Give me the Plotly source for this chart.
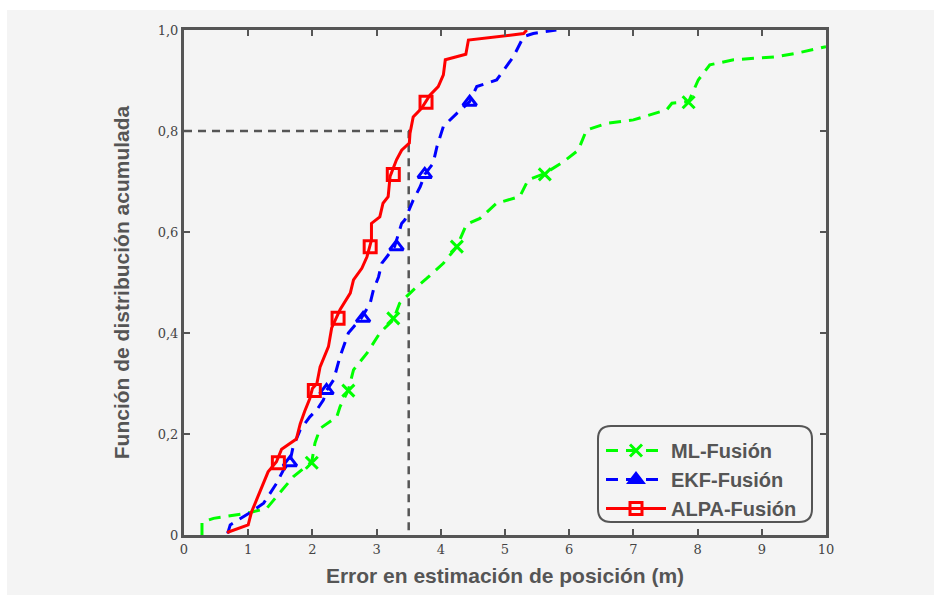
import plotly.graph_objects as go

# Empirical CDFs of the position error for each fusion method
ml_x = [0.28, 0.28, 0.46, 0.98, 1.29, 1.44, 1.70, 1.99, 2.04, 2.12, 2.38, 2.43, 2.56, 2.64, 2.85,
        3.05, 3.26, 3.36, 3.57, 3.78, 4.04, 4.25, 4.40, 4.61, 4.87, 5.23, 5.36, 5.62, 5.91, 6.14,
        6.27, 6.58, 7.00, 7.52, 7.60, 7.86, 8.01, 8.19, 8.56, 9.23, 9.54, 10.0]
ml_y = [0.0, 0.025, 0.033, 0.043, 0.053, 0.076, 0.115, 0.145, 0.182, 0.211, 0.234, 0.254, 0.287,
        0.327, 0.360, 0.400, 0.426, 0.459, 0.485, 0.508, 0.538, 0.571, 0.615, 0.627, 0.657, 0.670,
        0.703, 0.716, 0.739, 0.762, 0.802, 0.815, 0.822, 0.842, 0.855, 0.858, 0.901, 0.931, 0.941,
        0.947, 0.954, 0.967]

ekf_x = [0.68, 0.72, 1.00, 1.24, 1.44, 1.55, 1.65, 1.70, 1.81, 1.96, 2.07, 2.17, 2.22, 2.33, 2.43,
         2.56, 2.66, 2.76, 2.90, 2.95, 3.03, 3.08, 3.16, 3.28, 3.39, 3.44, 3.57, 3.68, 3.75, 3.88,
         3.94, 4.04, 4.25, 4.45, 4.56, 4.87, 5.13, 5.29, 5.44, 5.80]
ekf_y = [0.003, 0.020, 0.042, 0.063, 0.102, 0.129, 0.145, 0.175, 0.208, 0.234, 0.248, 0.267, 0.286,
         0.307, 0.353, 0.400, 0.415, 0.429, 0.459, 0.485, 0.511, 0.538, 0.551, 0.571, 0.617, 0.624,
         0.663, 0.690, 0.714, 0.736, 0.769, 0.809, 0.835, 0.858, 0.888, 0.901, 0.947, 0.987, 0.993,
         1.0]

alpa_x = [0.67, 1.00, 1.05, 1.16, 1.31, 1.44, 1.52, 1.75, 1.81, 1.88, 1.96, 2.00, 2.07, 2.12, 2.25,
          2.30, 2.43, 2.59, 2.64, 2.77, 2.85, 2.92, 2.92, 3.05, 3.10, 3.18, 3.21, 3.31, 3.39, 3.51,
          3.52, 3.57, 3.70, 3.83, 3.96, 4.04, 4.07, 4.39, 4.43, 5.29, 5.34]
alpa_y = [0.005, 0.020, 0.045, 0.080, 0.125, 0.145, 0.170, 0.190, 0.220, 0.245, 0.270, 0.290, 0.300,
          0.333, 0.373, 0.410, 0.446, 0.479, 0.505, 0.528, 0.551, 0.584, 0.617, 0.630, 0.657, 0.670,
          0.710, 0.743, 0.762, 0.776, 0.795, 0.828, 0.845, 0.871, 0.888, 0.911, 0.941, 0.952, 0.980,
          0.993, 1.0]

# Marker positions along each curve
mark_y = [0.143, 0.286, 0.429, 0.571, 0.714, 0.857]
ml_mx = [1.99, 2.56, 3.26, 4.25, 5.62, 7.86]
ekf_mx = [1.65, 2.22, 2.79, 3.31, 3.75, 4.45]
alpa_mx = [1.47, 2.03, 2.40, 2.90, 3.26, 3.77]

# Reference threshold lines
ref_x = 3.5
ref_y = 0.8

x_ticks = [0, 1, 2, 3, 4, 5, 6, 7, 8, 9, 10]
y_ticks = [0, 0.2, 0.4, 0.6, 0.8, 1.0]
y_ticktext = ["0", "0,2", "0,4", "0,6", "0,8", "1,0"]

names = ["ML-Fusión", "EKF-Fusión", "ALPA-Fusión"]
colors = ["#00ff00", "#0000ff", "#ff0000"]
dashes = ["12px,8px", "12px,8px", "solid"]
plot_symbols = ["x-thin-open", "triangle-up-open", "square-open"]
legend_symbols = ["x-thin-open", "triangle-up", "square-open"]

fig = go.Figure()

# dashed guide lines
fig.add_trace(go.Scatter(x=[0, ref_x, ref_x], y=[ref_y, ref_y, 0], mode="lines",
                         line=dict(color="#555555", width=2.5, dash="8px,6px"),
                         showlegend=False, hoverinfo="skip"))

series = [(ml_x, ml_y, ml_mx), (ekf_x, ekf_y, ekf_mx), (alpa_x, alpa_y, alpa_mx)]
for (sx, sy, mx), name, c, d, ps, ls in zip(series, names, colors, dashes, plot_symbols, legend_symbols):
    fig.add_trace(go.Scatter(x=sx, y=sy, mode="lines", line=dict(color=c, width=3, dash=d),
                             showlegend=False))
    fig.add_trace(go.Scatter(x=mx, y=mark_y, mode="markers",
                             marker=dict(symbol=ps, size=12, color=c, line=dict(color=c, width=3)),
                             showlegend=False))
    # legend entry
    fig.add_trace(go.Scatter(x=[None], y=[None], mode="lines+markers", name=name,
                             legendgroup=name,
                             line=dict(color=c, width=3, dash=d),
                             marker=dict(symbol=ls, size=12, color=c, line=dict(color=c, width=3))))

W, H = 934, 595
L, R, T, B = 184, 108, 30, 60
pw, ph = W - L - R, H - T - B


def px_to_paper(px, py):
    return (px - L) / pw, (H - B - py) / ph


# light grey backdrop
bx0, by0 = px_to_paper(7, 595)
bx1, by1 = px_to_paper(934, 10)
shapes = [dict(type="rect", xref="paper", yref="paper", x0=bx0, y0=by0, x1=bx1, y1=by1,
               fillcolor="#f4f4f4", line=dict(width=0), layer="below")]

# rounded legend frame
lx0, ly0 = px_to_paper(598, 522)
lx1, ly1 = px_to_paper(812, 426)
rx, ry = 13 / pw, 13 / ph
path = (f"M {lx0+rx},{ly1} L {lx1-rx},{ly1} Q {lx1},{ly1} {lx1},{ly1-ry} "
        f"L {lx1},{ly0+ry} Q {lx1},{ly0} {lx1-rx},{ly0} L {lx0+rx},{ly0} "
        f"Q {lx0},{ly0} {lx0},{ly0+ry} L {lx0},{ly1-ry} Q {lx0},{ly1} {lx0+rx},{ly1} Z")
shapes.append(dict(type="path", xref="paper", yref="paper", path=path,
                   line=dict(color="#555555", width=2), fillcolor="#f4f4f4", layer="above"))

leg_x, leg_y = px_to_paper(601, 431)

axis_common = dict(showline=True, linecolor="#555555", linewidth=3, mirror="ticks",
                   ticks="inside", ticklen=6, tickwidth=1.5, tickcolor="#555555",
                   showgrid=False, zeroline=False,
                   tickfont=dict(family="DejaVu Serif", size=13, color="#444444"),
                   title_font=dict(family="Liberation Sans", size=21, color="#555555"))

fig.update_layout(
    width=W, height=H,
    margin=dict(l=L, r=R, t=T, b=B),
    paper_bgcolor="white",
    plot_bgcolor="#f4f4f4",
    shapes=shapes,
    xaxis=dict(range=[0, 10], tickvals=x_ticks, ticktext=[str(v) for v in x_ticks],
               title=dict(text="<b>Error en estimación de posición (m)</b>", standoff=13),
               **axis_common),
    yaxis=dict(range=[0, 1], tickvals=y_ticks, ticktext=y_ticktext,
               title=dict(text="<b>Función de distribución acumulada</b>", standoff=23),
               **axis_common),
    legend=dict(x=leg_x, y=leg_y, xanchor="left", yanchor="top", bgcolor="rgba(0,0,0,0)",
                borderwidth=0, font=dict(family="Liberation Sans", size=20, color="#555555"),
                itemwidth=60, tracegroupgap=0),
    showlegend=True,
)
fig.update_layout(legend_font_weight="bold")

fig.write_html("out.html")
